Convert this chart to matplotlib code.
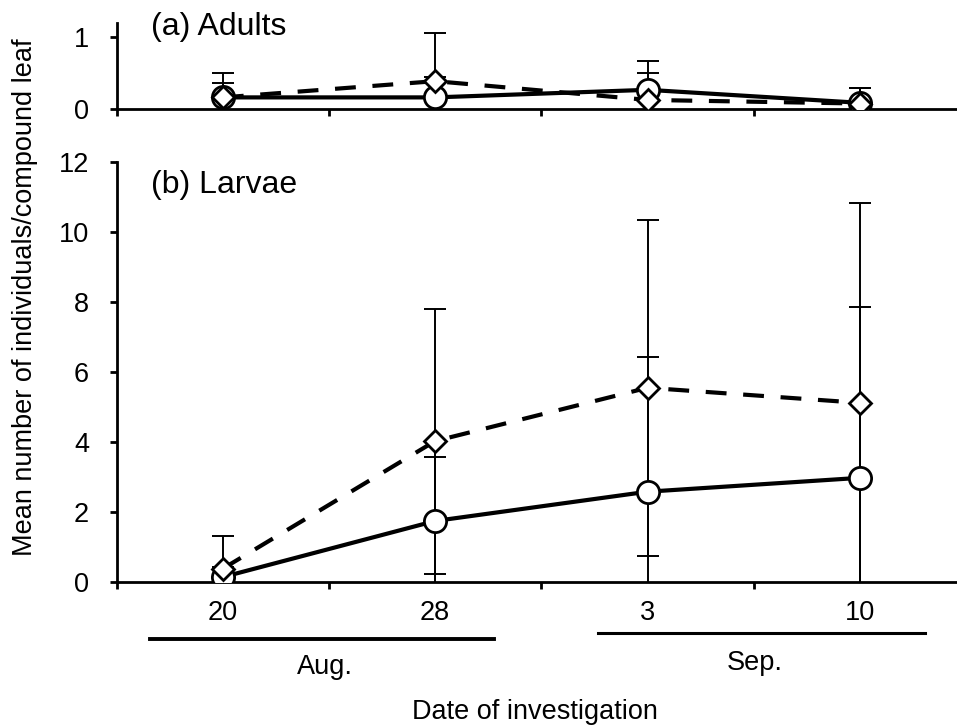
import matplotlib
matplotlib.use("Agg")
import matplotlib.pyplot as plt
from matplotlib.lines import Line2D
import numpy as np

plt.rcParams['font.family'] = ['Liberation Sans', 'DejaVu Sans']

dates = ["20", "28", "3", "10"]
months = ["Aug.", "Sep."]

# (a) Adults
adult_circle = [0.165, 0.165, 0.27, 0.09]
adult_circle_sd = [0.20, 0.28, 0.40, 0.20]
adult_diamond = [0.165, 0.39, 0.13, 0.08]
adult_diamond_sd = [0.335, 0.665, 0.37, 0.21]

# (b) Larvae
larva_circle = [0.15, 1.75, 2.585, 2.98]
larva_circle_sd = [0.30, 1.82, 3.855, 4.87]
larva_diamond = [0.39, 4.03, 5.55, 5.12]
larva_diamond_sd = [0.93, 3.78, 4.79, 5.69]

W, H = 957, 725
fig = plt.figure(figsize=(W / 100, H / 100), dpi=100)

def fx(px):
    return px / W

def fy(py):
    return 1 - py / H

FS = 19.5
left = 116.7
right = 966.0
ax_top = fig.add_axes([fx(left), fy(109.3), fx(right - left), (109.3 - 22.7) / H])
ax_bot = fig.add_axes([fx(left), fy(582.3), fx(right - left), (582.3 - 161.7) / H])

x = np.arange(len(dates))

def draw(ax, yc, yc_sd, yd, yd_sd):
    ax.errorbar(x, yc, yerr=yc_sd, fmt='none', ecolor='black', elinewidth=1.4,
                capsize=8, capthick=1.4, zorder=2)
    ax.errorbar(x, yd, yerr=yd_sd, fmt='none', ecolor='black', elinewidth=1.4,
                capsize=8, capthick=1.4, zorder=2)
    ax.plot(x, yc, '-', color='black', lw=3.0, zorder=3)
    ax.plot(x, yd, color='black', lw=3.0, linestyle=(0, (5, 4)), zorder=4)
    ax.plot(x, yc, 'o', ms=16, mfc='white', mec='black', mew=2.0, zorder=5)
    ax.plot(x, yd, 'D', ms=11.5, mfc='white', mec='black', mew=2.0, zorder=6)
    ax.set_xlim(-0.5, len(dates) - 0.5)
    for s in ['top', 'right']:
        ax.spines[s].set_visible(False)
    for s in ['left', 'bottom']:
        ax.spines[s].set_linewidth(2.0)
    ax.set_xticks(np.arange(-0.5, len(dates) + 0.5, 1.0))
    ax.set_xticklabels([])
    ax.tick_params(axis='x', direction='out', length=5, width=2.0)
    ax.tick_params(axis='y', direction='out', length=5, width=2.0,
                   labelsize=FS, pad=15)

draw(ax_top, adult_circle, adult_circle_sd, adult_diamond, adult_diamond_sd)
ax_top.set_ylim(0, 1.2)
ax_top.set_yticks([0, 1])

draw(ax_bot, larva_circle, larva_circle_sd, larva_diamond, larva_diamond_sd)
ax_bot.set_ylim(0, 12)
ax_bot.set_yticks(np.arange(0, 13, 2))

# date labels at category centres
for i, d in enumerate(dates):
    ax_bot.text(i, -0.074, d, transform=ax_bot.get_xaxis_transform(),
                ha='center', va='center', fontsize=FS)

fig.text(fx(151), fy(27), "(a) Adults", ha='left', va='center', fontsize=23)
fig.text(fx(151), fy(185), "(b) Larvae", ha='left', va='center', fontsize=23)

# month bars
fig.add_artist(Line2D([fx(150), fx(494)], [fy(638.5), fy(638.5)], color='black',
                      lw=2.8, transform=fig.transFigure))
fig.add_artist(Line2D([fx(598), fx(925)], [fy(633), fy(633)], color='black',
                      lw=2.2, transform=fig.transFigure))
fig.text(fx(325), fy(667), months[0], ha='center', va='center', fontsize=FS)
fig.text(fx(755), fy(663), months[1], ha='center', va='center', fontsize=FS)

fig.text(fx(535), fy(712), "Date of investigation", ha='center', va='center',
         fontsize=FS)
fig.text(fx(25), fy(297), "Mean number of individuals/compound leaf",
         ha='center', va='center', rotation=90, fontsize=FS)

fig.savefig("out.png", dpi=100)
